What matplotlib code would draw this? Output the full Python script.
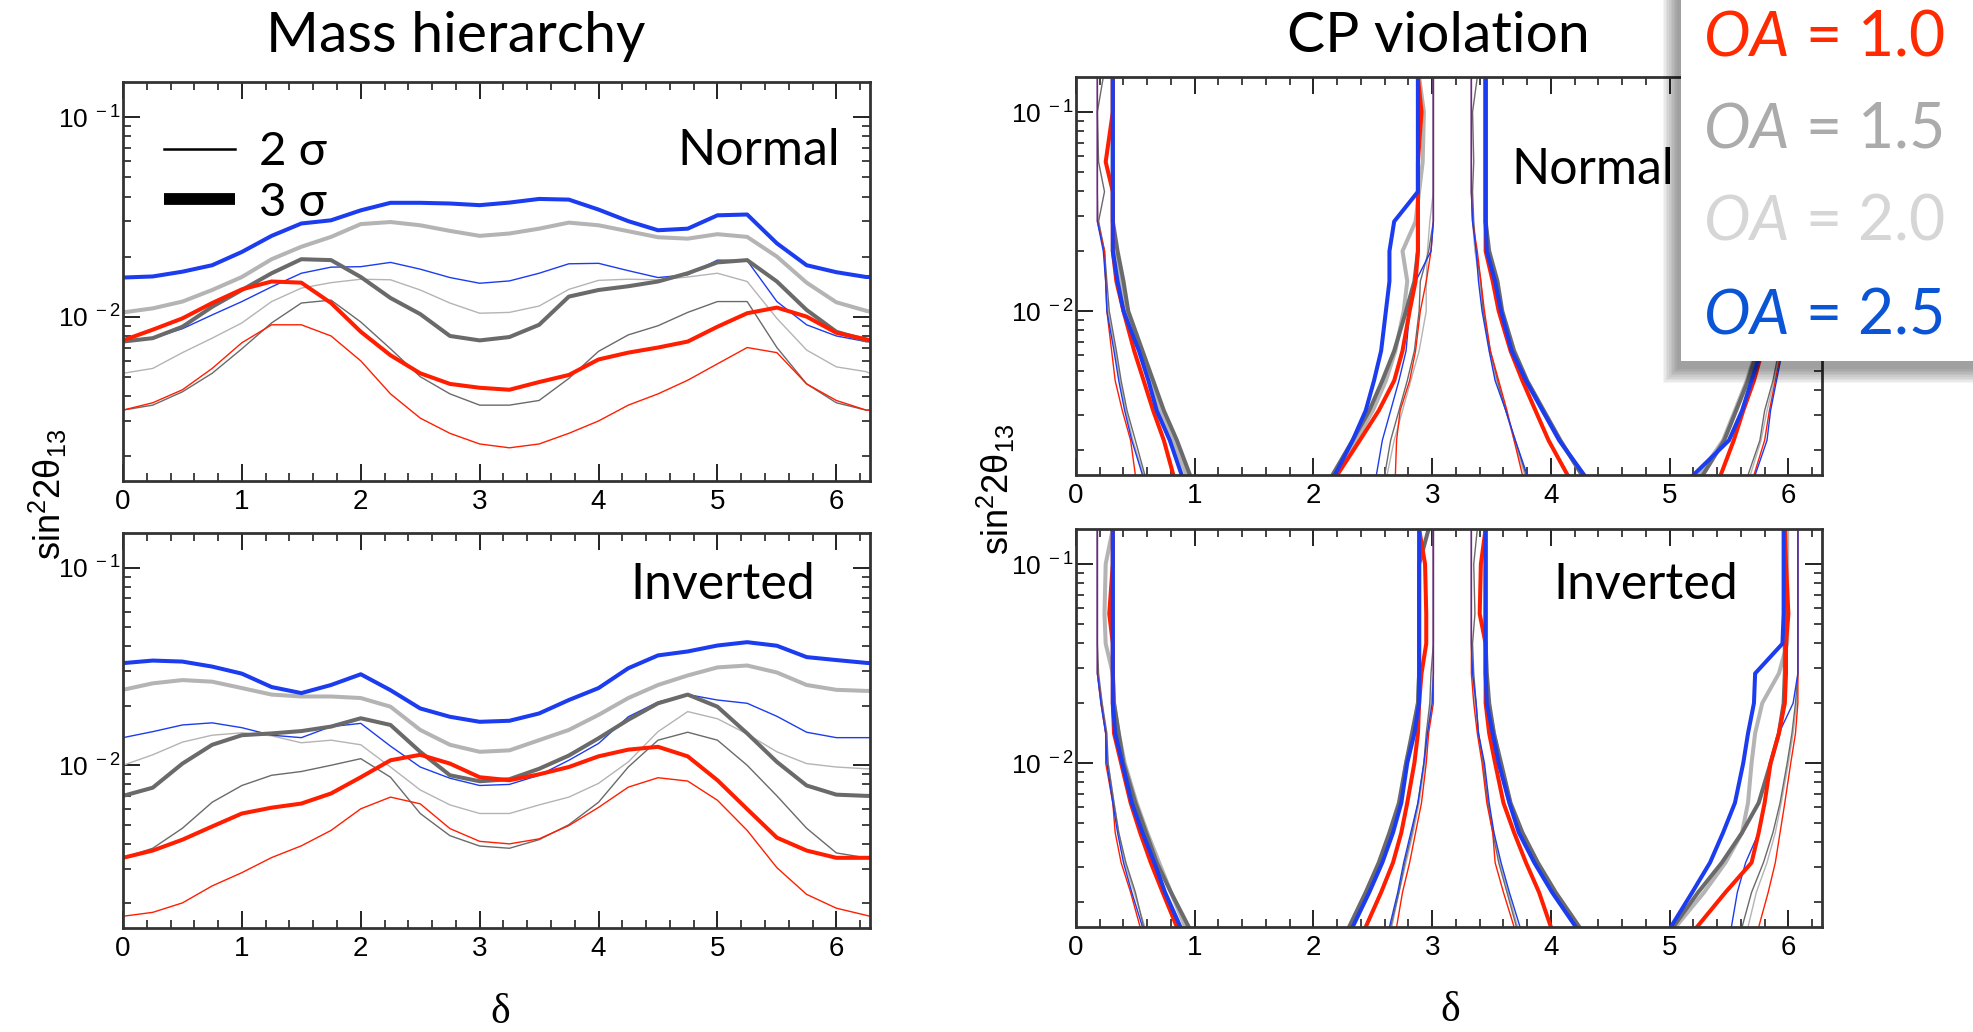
import numpy as np
import matplotlib
matplotlib.use('Agg')
import matplotlib.pyplot as plt
from matplotlib.lines import Line2D
from matplotlib.patches import Rectangle
from matplotlib.ticker import MultipleLocator, LogLocator, NullFormatter, FuncFormatter

plt.rcParams['font.family'] = ['Liberation Sans', 'DejaVu Sans']
plt.rcParams['mathtext.fontset'] = 'custom'
plt.rcParams['mathtext.rm'] = 'Lato'
plt.rcParams['mathtext.it'] = 'Lato:italic'

W, H = 1974, 1032

# ---------------- mass hierarchy: sin^2 2theta13 reach vs delta ----------------
delta_grid = [0.0, 0.25, 0.5, 0.75, 1.0, 1.25, 1.5, 1.75, 2.0, 2.25, 2.5, 2.75, 3.0,
              3.25, 3.5, 3.75, 4.0, 4.25, 4.5, 4.75, 5.0, 5.25, 5.5, 5.75, 6.0, 6.25, 6.283]

# normal hierarchy, 3 sigma (thick)
mh_n_red3 = [0.0076, 0.0086, 0.0098, 0.0117, 0.0137, 0.0150, 0.0148, 0.0117, 0.0084, 0.0064, 0.0052, 0.0046, 0.0044,
             0.0043, 0.0047, 0.0051, 0.0061, 0.0066, 0.0070, 0.0075, 0.0089, 0.0104, 0.0111, 0.0100, 0.0083, 0.0077, 0.0076]
mh_n_dgray3 = [0.0075, 0.0078, 0.0089, 0.0112, 0.0136, 0.0165, 0.0194, 0.0192, 0.0158, 0.0124, 0.0103, 0.0080, 0.0076,
               0.0079, 0.0091, 0.0126, 0.0136, 0.0142, 0.0150, 0.0165, 0.0187, 0.0192, 0.0150, 0.0108, 0.0084, 0.0076, 0.0076]
mh_n_lgray3 = [0.0105, 0.0110, 0.0119, 0.0136, 0.0158, 0.0194, 0.0224, 0.0251, 0.0291, 0.0298, 0.0287, 0.0269, 0.0254,
               0.0261, 0.0276, 0.0296, 0.0287, 0.0268, 0.0250, 0.0246, 0.0259, 0.0251, 0.0200, 0.0148, 0.0118, 0.0107, 0.0106]
mh_n_blue3 = [0.0157, 0.0159, 0.0168, 0.0181, 0.0211, 0.0254, 0.0293, 0.0304, 0.0341, 0.0372, 0.0372, 0.0369, 0.0362,
              0.0373, 0.0389, 0.0386, 0.0344, 0.0301, 0.0271, 0.0276, 0.0322, 0.0325, 0.0233, 0.0181, 0.0167, 0.0158, 0.0158]
# normal hierarchy, 2 sigma (thin)
mh_n_red2 = [0.0034, 0.0037, 0.0043, 0.0055, 0.0074, 0.0091, 0.0091, 0.0080, 0.0060, 0.0041, 0.0031, 0.0026, 0.0023,
             0.0022, 0.0023, 0.0026, 0.0030, 0.0036, 0.0041, 0.0048, 0.0058, 0.0070, 0.0066, 0.0046, 0.0038, 0.0034, 0.0034]
mh_n_dgray2 = [0.0034, 0.0036, 0.0042, 0.0052, 0.0069, 0.0093, 0.0117, 0.0121, 0.0094, 0.0069, 0.0050, 0.0041, 0.0036,
               0.0036, 0.0038, 0.0049, 0.0067, 0.0081, 0.0090, 0.0105, 0.0119, 0.0119, 0.0070, 0.0046, 0.0037, 0.0034, 0.0034]
mh_n_lgray2 = [0.0052, 0.0055, 0.0066, 0.0078, 0.0093, 0.0119, 0.0139, 0.0148, 0.0154, 0.0153, 0.0136, 0.0117, 0.0104,
               0.0105, 0.0113, 0.0137, 0.0152, 0.0154, 0.0153, 0.0158, 0.0165, 0.0150, 0.0098, 0.0068, 0.0056, 0.0053, 0.0052]
mh_n_blue2 = [0.0075, 0.0078, 0.0087, 0.0102, 0.0119, 0.0141, 0.0165, 0.0177, 0.0178, 0.0187, 0.0173, 0.0157, 0.0147,
              0.0151, 0.0165, 0.0184, 0.0185, 0.0170, 0.0157, 0.0162, 0.0192, 0.0191, 0.0119, 0.0091, 0.0080, 0.0075, 0.0075]

# inverted hierarchy, 3 sigma
mh_i_red3 = [0.0034, 0.0037, 0.0042, 0.0049, 0.0057, 0.0061, 0.0064, 0.0072, 0.0087, 0.0106, 0.0113, 0.0102, 0.0087,
             0.0084, 0.0090, 0.0098, 0.0111, 0.0120, 0.0124, 0.0111, 0.0084, 0.0060, 0.0043, 0.0037, 0.0034, 0.0034, 0.0034]
mh_i_dgray3 = [0.0070, 0.0077, 0.0102, 0.0127, 0.0142, 0.0145, 0.0149, 0.0157, 0.0173, 0.0160, 0.0117, 0.0089, 0.0083,
               0.0085, 0.0096, 0.0112, 0.0137, 0.0170, 0.0206, 0.0228, 0.0198, 0.0145, 0.0104, 0.0079, 0.0071, 0.0070, 0.0070]
mh_i_lgray3 = [0.0241, 0.0260, 0.0270, 0.0265, 0.0246, 0.0228, 0.0223, 0.0223, 0.0219, 0.0198, 0.0151, 0.0127, 0.0117,
               0.0119, 0.0134, 0.0151, 0.0180, 0.0219, 0.0255, 0.0285, 0.0313, 0.0320, 0.0295, 0.0255, 0.0241, 0.0238, 0.0238]
mh_i_blue3 = [0.0329, 0.0339, 0.0335, 0.0316, 0.0291, 0.0249, 0.0232, 0.0255, 0.0289, 0.0240, 0.0194, 0.0176, 0.0166,
              0.0168, 0.0183, 0.0214, 0.0246, 0.0310, 0.0360, 0.0377, 0.0404, 0.0420, 0.0403, 0.0353, 0.0341, 0.0330, 0.0329]
# inverted hierarchy, 2 sigma
mh_i_red2 = [0.00172, 0.00180, 0.00201, 0.00245, 0.00286, 0.00341, 0.00391, 0.00468, 0.00602, 0.00690, 0.00638, 0.00478,
             0.00412, 0.00400, 0.00424, 0.00495, 0.00612, 0.00775, 0.00865, 0.00832, 0.00665, 0.00468, 0.00303, 0.00222,
             0.00189, 0.00174, 0.00172]
mh_i_dgray2 = [0.0034, 0.0038, 0.0048, 0.0065, 0.0079, 0.0089, 0.0093, 0.0100, 0.0108, 0.0087, 0.0057, 0.0044, 0.0039,
               0.0038, 0.0042, 0.0050, 0.0065, 0.0098, 0.0134, 0.0147, 0.0134, 0.0100, 0.0070, 0.0048, 0.0036, 0.0034, 0.0034]
mh_i_lgray2 = [0.0100, 0.0113, 0.0131, 0.0142, 0.0146, 0.0141, 0.0130, 0.0134, 0.0127, 0.0098, 0.0075, 0.0063, 0.0057,
               0.0057, 0.0063, 0.0069, 0.0081, 0.0104, 0.0148, 0.0187, 0.0172, 0.0144, 0.0117, 0.0102, 0.0098, 0.0096, 0.0096]
mh_i_blue2 = [0.0138, 0.0148, 0.0160, 0.0164, 0.0155, 0.0142, 0.0138, 0.0157, 0.0163, 0.0125, 0.0098, 0.0086, 0.0079,
              0.0080, 0.0089, 0.0106, 0.0129, 0.0176, 0.0209, 0.0228, 0.0214, 0.0206, 0.0177, 0.0147, 0.0138, 0.0138, 0.0138]

# ---------------- CP violation: delta boundaries vs sin^2 2theta13 ----------------
s2_grid = [0.0015, 0.00224, 0.00316, 0.00447, 0.00631, 0.01, 0.0141, 0.02, 0.0282, 0.0398, 0.0562, 0.1, 0.15]

# four branches each (near 0, left of pi, right of pi, near 2pi)
cp_n_red3 = [[0.82, 0.74, 0.65, 0.57, 0.49, 0.40, 0.34, 0.31, 0.31, 0.31, 0.25, 0.31, 0.31],
             [2.20, 2.39, 2.55, 2.68, 2.75, 2.81, 2.86, 2.88, 2.88, 2.88, 2.88, 2.91, 2.88],
             [4.14, 3.98, 3.87, 3.76, 3.66, 3.56, 3.51, 3.45, 3.45, 3.45, 3.45, 3.45, 3.45],
             [5.43, 5.54, 5.62, 5.71, 5.78, 5.86, 5.92, 5.97, 5.97, 5.97, 5.97, 5.97, 5.97]]
cp_n_dgray3 = [[0.96, 0.85, 0.74, 0.65, 0.56, 0.44, 0.40, 0.35, 0.31, 0.31, 0.31, 0.31, 0.31],
               [2.16, 2.33, 2.47, 2.58, 2.68, 2.78, 2.85, 2.88, 2.88, 2.88, 2.88, 2.88, 2.88],
               [4.26, 4.08, 3.94, 3.80, 3.69, 3.59, 3.55, 3.48, 3.45, 3.45, 3.45, 3.45, 3.45],
               [5.28, 5.46, 5.56, 5.66, 5.74, 5.84, 5.90, 5.95, 5.97, 5.97, 5.97, 5.97, 5.97]]
cp_n_lgray3 = [[0.93, 0.82, 0.71, 0.62, 0.54, 0.42, 0.37, 0.32, 0.31, 0.31, 0.31, 0.31, 0.31],
               [2.18, 2.36, 2.50, 2.61, 2.69, 2.76, 2.79, 2.75, 2.86, 2.89, 2.92, 2.93, 2.89],
               [4.27, 4.07, 3.93, 3.79, 3.68, 3.58, 3.54, 3.47, 3.45, 3.45, 3.45, 3.45, 3.45],
               [5.25, 5.45, 5.55, 5.65, 5.73, 5.83, 5.89, 5.95, 5.97, 5.97, 5.97, 5.97, 5.97]]
cp_n_blue3 = [[0.89, 0.79, 0.68, 0.61, 0.53, 0.40, 0.35, 0.31, 0.31, 0.31, 0.31, 0.31, 0.31],
              [2.18, 2.33, 2.44, 2.51, 2.57, 2.61, 2.64, 2.64, 2.68, 2.88, 2.88, 2.88, 2.88],
              [4.28, 4.07, 3.93, 3.79, 3.67, 3.58, 3.53, 3.46, 3.45, 3.45, 3.45, 3.45, 3.45],
              [5.20, 5.50, 5.61, 5.69, 5.77, 5.86, 5.92, 5.97, 5.97, 5.97, 5.97, 5.97, 5.97]]
cp_n_red2 = [[0.50, 0.46, 0.39, 0.33, 0.30, 0.26, 0.25, 0.24, 0.18, 0.18, 0.18, 0.18, 0.18],
             [2.69, 2.70, 2.73, 2.81, 2.86, 2.90, 2.95, 2.99, 3.01, 3.01, 3.01, 3.01, 3.01],
             [3.76, 3.69, 3.63, 3.56, 3.49, 3.44, 3.41, 3.38, 3.34, 3.33, 3.33, 3.33, 3.33],
             [5.71, 5.80, 5.84, 5.89, 5.94, 5.99, 6.03, 6.06, 6.10, 6.10, 6.10, 6.10, 6.10]]
cp_n_dgray2 = [[0.58, 0.50, 0.43, 0.38, 0.34, 0.28, 0.26, 0.24, 0.19, 0.24, 0.19, 0.18, 0.23],
               [2.60, 2.65, 2.72, 2.79, 2.85, 2.89, 2.90, 2.97, 3.01, 3.01, 3.01, 3.01, 3.01],
               [3.79, 3.70, 3.62, 3.55, 3.49, 3.43, 3.41, 3.37, 3.35, 3.34, 3.35, 3.34, 3.38],
               [5.66, 5.76, 5.80, 5.87, 5.92, 5.98, 6.02, 6.05, 6.09, 6.10, 6.10, 6.10, 6.10]]
cp_n_lgray2 = [[0.57, 0.48, 0.42, 0.37, 0.33, 0.27, 0.25, 0.24, 0.19, 0.18, 0.18, 0.18, 0.18],
               [2.62, 2.68, 2.75, 2.82, 2.89, 2.95, 2.95, 2.96, 2.98, 3.01, 3.01, 3.01, 3.01],
               [3.78, 3.69, 3.62, 3.54, 3.48, 3.43, 3.40, 3.36, 3.34, 3.33, 3.33, 3.33, 3.33],
               [5.68, 5.77, 5.82, 5.88, 5.93, 5.99, 6.02, 6.05, 6.10, 6.10, 6.10, 6.10, 6.10]]
cp_n_blue2 = [[0.56, 0.47, 0.41, 0.36, 0.32, 0.26, 0.25, 0.23, 0.18, 0.18, 0.18, 0.18, 0.18],
              [2.53, 2.58, 2.65, 2.72, 2.78, 2.81, 2.86, 2.99, 3.01, 3.01, 3.01, 3.01, 3.01],
              [3.80, 3.70, 3.62, 3.53, 3.48, 3.42, 3.39, 3.37, 3.34, 3.33, 3.33, 3.33, 3.33],
              [5.72, 5.82, 5.85, 5.90, 5.95, 6.00, 6.03, 6.06, 6.10, 6.10, 6.10, 6.10, 6.10]]

cp_i_red3 = [[0.85, 0.73, 0.63, 0.54, 0.46, 0.38, 0.32, 0.31, 0.31, 0.31, 0.28, 0.31, 0.31],
             [2.44, 2.57, 2.67, 2.74, 2.79, 2.85, 2.88, 2.89, 2.91, 2.95, 2.95, 2.94, 2.89],
             [4.00, 3.90, 3.79, 3.69, 3.60, 3.53, 3.48, 3.45, 3.45, 3.45, 3.40, 3.41, 3.45],
             [5.23, 5.47, 5.69, 5.75, 5.80, 5.85, 5.92, 5.97, 5.98, 5.98, 6.00, 5.98, 5.97]]
cp_i_dgray3 = [[0.95, 0.80, 0.68, 0.59, 0.50, 0.40, 0.36, 0.32, 0.31, 0.31, 0.31, 0.31, 0.31],
               [2.30, 2.44, 2.55, 2.64, 2.72, 2.78, 2.83, 2.88, 2.89, 2.89, 2.89, 2.89, 2.97],
               [4.24, 4.04, 3.89, 3.76, 3.66, 3.58, 3.52, 3.48, 3.46, 3.45, 3.45, 3.45, 3.45],
               [5.03, 5.24, 5.44, 5.61, 5.75, 5.85, 5.92, 5.96, 5.97, 5.97, 5.97, 5.97, 5.97]]
cp_i_lgray3 = [[0.92, 0.80, 0.70, 0.60, 0.51, 0.41, 0.36, 0.32, 0.31, 0.25, 0.24, 0.25, 0.31],
               [2.31, 2.45, 2.56, 2.65, 2.73, 2.78, 2.84, 2.88, 2.89, 2.89, 2.89, 2.89, 2.89],
               [4.22, 4.02, 3.87, 3.75, 3.65, 3.57, 3.52, 3.47, 3.45, 3.45, 3.45, 3.45, 3.45],
               [5.05, 5.29, 5.47, 5.61, 5.66, 5.69, 5.72, 5.78, 5.92, 5.99, 5.99, 5.99, 5.99]]
cp_i_blue3 = [[0.88, 0.75, 0.66, 0.56, 0.47, 0.39, 0.33, 0.31, 0.31, 0.31, 0.31, 0.31, 0.31],
              [2.33, 2.47, 2.58, 2.67, 2.74, 2.79, 2.85, 2.89, 2.89, 2.89, 2.89, 2.89, 2.89],
              [4.21, 4.01, 3.86, 3.73, 3.65, 3.56, 3.51, 3.46, 3.45, 3.45, 3.45, 3.45, 3.45],
              [5.01, 5.19, 5.34, 5.45, 5.55, 5.62, 5.66, 5.71, 5.72, 5.95, 5.96, 5.96, 5.96]]
cp_i_red2 = [[0.54, 0.46, 0.38, 0.33, 0.31, 0.25, 0.25, 0.21, 0.18, 0.18, 0.18, 0.18, 0.18],
             [2.70, 2.75, 2.81, 2.86, 2.91, 2.95, 2.97, 3.01, 3.01, 3.01, 3.01, 3.01, 3.01],
             [3.69, 3.60, 3.53, 3.51, 3.46, 3.42, 3.38, 3.35, 3.33, 3.33, 3.33, 3.33, 3.33],
             [5.75, 5.83, 5.89, 5.93, 5.97, 6.02, 6.06, 6.08, 6.08, 6.08, 6.08, 6.08, 6.08]]
cp_i_dgray2 = [[0.57, 0.50, 0.42, 0.36, 0.32, 0.27, 0.26, 0.22, 0.19, 0.18, 0.18, 0.18, 0.18],
               [2.65, 2.72, 2.77, 2.83, 2.88, 2.93, 2.95, 2.98, 2.99, 3.01, 3.01, 3.01, 3.01],
               [3.71, 3.63, 3.56, 3.51, 3.47, 3.43, 3.39, 3.37, 3.35, 3.34, 3.36, 3.35, 3.38],
               [5.61, 5.69, 5.79, 5.87, 5.93, 5.99, 6.03, 6.06, 6.08, 6.08, 6.08, 6.08, 6.08]]
cp_i_lgray2 = [[0.58, 0.49, 0.41, 0.36, 0.32, 0.27, 0.25, 0.22, 0.18, 0.18, 0.18, 0.18, 0.18],
               [2.66, 2.72, 2.78, 2.84, 2.89, 2.94, 2.96, 2.99, 3.01, 3.01, 3.01, 3.01, 3.01],
               [3.72, 3.64, 3.57, 3.52, 3.47, 3.43, 3.39, 3.36, 3.34, 3.33, 3.33, 3.33, 3.33],
               [5.66, 5.73, 5.82, 5.89, 5.94, 6.00, 6.04, 6.07, 6.08, 6.08, 6.08, 6.08, 6.08]]
cp_i_blue2 = [[0.56, 0.47, 0.40, 0.35, 0.31, 0.26, 0.25, 0.21, 0.18, 0.18, 0.18, 0.18, 0.18],
              [2.64, 2.71, 2.76, 2.82, 2.88, 2.93, 2.96, 3.00, 3.01, 3.01, 3.01, 3.01, 3.01],
              [3.74, 3.65, 3.58, 3.52, 3.48, 3.44, 3.39, 3.37, 3.34, 3.33, 3.33, 3.33, 3.33],
              [5.52, 5.57, 5.64, 5.75, 5.80, 5.85, 5.92, 6.04, 6.08, 6.08, 6.08, 6.08, 6.08]]

oa_labels = ['1.0', '1.5', '2.0', '2.5']
line_colors = ['#ff1e00', '#6a6a6a', '#b4b4b4', '#1c3cf0']
text_colors = ['#ff2a00', '#ababab', '#d6d6d6', '#0a55d6']
draw_order = [2, 1, 0, 3]
LW_THIN, LW_THICK = 1.0, 2.9


def style_axes(ax):
    ax.set_xlim(0, 2 * np.pi)
    ax.set_yscale('log')
    ax.set_ylim(1.5e-3, 0.15)
    ax.xaxis.set_major_locator(MultipleLocator(1))
    ax.xaxis.set_minor_locator(MultipleLocator(0.2))
    ax.yaxis.set_major_locator(LogLocator(base=10, numticks=10))
    ax.yaxis.set_minor_locator(LogLocator(base=10, subs=np.arange(2, 10), numticks=10))
    ax.yaxis.set_major_formatter(FuncFormatter(
        lambda v, p: r'$\mathregular{10^{\ %d}}$' % int(round(np.log10(v)))))
    ax.yaxis.set_minor_formatter(NullFormatter())
    ax.tick_params(which='both', direction='in', top=True, right=True, color='#222222')
    ax.tick_params(which='major', length=12, width=1.4)
    ax.tick_params(axis='x', which='major', labelsize=20, pad=6)
    ax.tick_params(axis='y', which='major', labelsize=19, pad=2)
    ax.tick_params(which='minor', length=6, width=1.2)
    for s in ax.spines.values():
        s.set_linewidth(2)
        s.set_color('#333333')


fig = plt.figure(figsize=(W / 100, H / 100), dpi=100)
ax_lt = fig.add_axes([123 / W, 1 - 481 / H, 747 / W, 399 / H])
ax_lb = fig.add_axes([123 / W, 1 - 928 / H, 747 / W, 395 / H])
ax_rt = fig.add_axes([1076 / W, 1 - 475 / H, 746 / W, 398 / H])
ax_rb = fig.add_axes([1076 / W, 1 - 927 / H, 746 / W, 398 / H])

mh_sets = [
    (ax_lt, [mh_n_red2, mh_n_dgray2, mh_n_lgray2, mh_n_blue2], [mh_n_red3, mh_n_dgray3, mh_n_lgray3, mh_n_blue3]),
    (ax_lb, [mh_i_red2, mh_i_dgray2, mh_i_lgray2, mh_i_blue2], [mh_i_red3, mh_i_dgray3, mh_i_lgray3, mh_i_blue3]),
]
for ax, thin, thick in mh_sets:
    for i in draw_order:
        ax.plot(delta_grid, thin[i], color=line_colors[i], lw=LW_THIN)
    for i in draw_order:
        ax.plot(delta_grid, thick[i], color=line_colors[i], lw=LW_THICK)

cp_sets = [
    (ax_rt, [cp_n_red2, cp_n_dgray2, cp_n_lgray2, cp_n_blue2], [cp_n_red3, cp_n_dgray3, cp_n_lgray3, cp_n_blue3]),
    (ax_rb, [cp_i_red2, cp_i_dgray2, cp_i_lgray2, cp_i_blue2], [cp_i_red3, cp_i_dgray3, cp_i_lgray3, cp_i_blue3]),
]
for ax, thin, thick in cp_sets:
    for i in draw_order:
        for branch in thin[i]:
            ax.plot(branch, s2_grid, color=line_colors[i], lw=LW_THIN)
    for i in draw_order:
        for branch in thick[i]:
            ax.plot(branch, s2_grid, color=line_colors[i], lw=LW_THICK)

for ax in (ax_lt, ax_lb, ax_rt, ax_rb):
    style_axes(ax)

# panel labels
label_font = dict(family='Lato', fontsize=36, ha='center', va='center')
ax_lt.text(0.851, 0.827, 'Normal', transform=ax_lt.transAxes, **label_font)
ax_lb.text(0.803, 0.868, 'Inverted', transform=ax_lb.transAxes, **label_font)
ax_rt.text(0.693, 0.766, 'Normal', transform=ax_rt.transAxes, **label_font)
ax_rb.text(0.764, 0.859, 'Inverted', transform=ax_rb.transAxes, **label_font)

# 2 sigma / 3 sigma key
handles = [Line2D([], [], color='black', lw=1.8),
           Line2D([], [], color='black', lw=8.5, solid_capstyle='butt')]
ax_lt.legend(handles, ['2 σ', '3 σ'], loc='upper left', bbox_to_anchor=(0.055, 0.877),
             frameon=False, borderpad=0, borderaxespad=0, handlelength=1.5,
             handletextpad=0.5, labelspacing=0.18,
             prop={'family': ['Lato', 'DejaVu Serif'], 'size': 34})

# titles and axis labels
fig.text(456 / W, 1 - 37 / H, 'Mass hierarchy', family='Lato', fontsize=41, ha='center', va='center')
fig.text(1438 / W, 1 - 37 / H, 'CP violation', family='Lato', fontsize=41, ha='center', va='center')
ylab = r'$\mathregular{sin^{2}2\theta_{13}}$'
fig.text(48 / W, 1 - 494 / H, ylab, rotation=90, fontsize=26, ha='center', va='center')
fig.text(996 / W, 1 - 489 / H, ylab, rotation=90, fontsize=26, ha='center', va='center')
fig.text(500 / W, 1 - 1013 / H, 'δ', family='Liberation Serif', fontsize=30, ha='center', va='center')
fig.text(1450 / W, 1 - 1011 / H, 'δ', family='Liberation Serif', fontsize=30, ha='center', va='center')

# OA legend box with drop shadow (drawn over the right panels)
bx, by = 1681, 361
for k in range(10):
    g = 1.6 * k
    fig.patches.append(Rectangle(((bx - 4 - g) / W, 1 - (by + 8 + g) / H), 1, 1,
                                 transform=fig.transFigure, facecolor='black',
                                 edgecolor='none', alpha=0.045, zorder=19))
fig.patches.append(Rectangle((bx / W, 1 - by / H), 1, 1, transform=fig.transFigure,
                             facecolor='white', edgecolor='none', zorder=20))
baselines = [55, 148, 240, 333]
for i, lab in enumerate(oa_labels):
    fig.text(1703 / W, 1 - baselines[i] / H, r'$\mathit{OA}$ = ' + lab, family='Lato',
             fontsize=45, color=text_colors[i], ha='left', va='baseline', zorder=21)

fig.savefig('out.png', dpi=100)
